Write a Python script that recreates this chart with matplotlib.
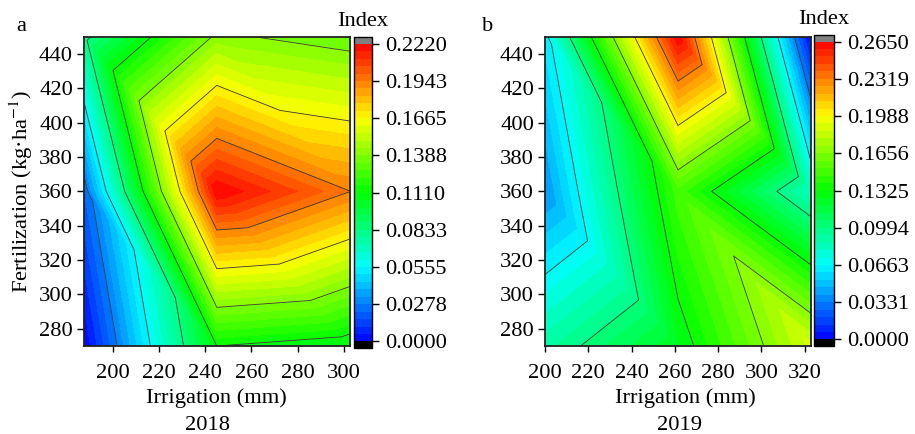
import numpy as np
import matplotlib
matplotlib.use("Agg")
import matplotlib.pyplot as plt
import matplotlib.tri as mtri
from matplotlib.colors import LinearSegmentedColormap

plt.rcParams['font.family'] = ['Liberation Serif', 'DejaVu Serif']
plt.rcParams['mathtext.fontset'] = 'stix'

# grid of treatments (irrigation x fertilization), index values
fert = [270, 360, 450]

irrig_2018 = [187.5, 245, 302.5]
index_2018 = [[0.000, 0.111, 0.104],
              [0.022, 0.222, 0.1945],
              [0.080, 0.141, 0.133]]

irrig_2019 = [200, 261.5, 323]
index_2019 = [[0.090, 0.125, 0.188],
              [0.0386, 0.1496, 0.082],
              [0.062, 0.265, 0.000]]

xticks_2018 = [200, 220, 240, 260, 280, 300]
xticks_2019 = [200, 220, 240, 260, 280, 300, 320]
yticks = [280, 300, 320, 340, 360, 380, 400, 420, 440]

FS = 16.2

cmap = LinearSegmentedColormap.from_list(
    "origin_rainbow", ["#0000ff", "#00ffff", "#00ff00", "#ffff00", "#ff0000"])
cmap.set_over("#808080")
cmap.set_under("#000000")

W, H = 915, 434
fig = plt.figure(figsize=(W / 100, H / 100), dpi=100)


def px(x0, y0, x1, y1):
    return [x0 / W, 1 - y1 / H, (x1 - x0) / W, (y1 - y0) / H]


def make_tri(xs, ys):
    X, Y = np.meshgrid(xs, ys)
    n = len(xs)
    tris = []
    for j in range(len(ys) - 1):
        for i in range(n - 1):
            a = j * n + i
            b = a + 1
            c = a + n
            d = c + 1
            tris.append([a, b, c])
            tris.append([b, d, c])
    return mtri.Triangulation(X.ravel(), Y.ravel(), tris)


def panel(ax_box, cb_box, xs, z, xticks, letter, year, letter_xy, index_xy, lab_x, year_x):
    z = np.array(z).ravel()
    vmax = z.max()
    tri = make_tri(xs, fert)
    ax = fig.add_axes(px(*ax_box))
    levels = np.linspace(0, vmax, 41)
    cf = ax.tricontourf(tri, z, levels=levels, cmap=cmap, extend="both")
    ax.tricontour(tri, z, levels=np.linspace(0, vmax, 9)[1:-1],
                  colors="#3a3a3a", linewidths=0.6)
    ax.set_xlim(xs[0], xs[-1])
    ax.set_ylim(fert[0], fert[-1])
    ax.set_xticks(xticks)
    ax.set_yticks(yticks)
    ax.tick_params(direction="out", width=1.0, labelsize=FS)
    ax.tick_params(axis="x", length=4.3, pad=9)
    ax.tick_params(axis="y", length=5, pad=3)
    for s in ax.spines.values():
        s.set_linewidth(1.3)
        s.set_color("#222222")

    cax = fig.add_axes(px(*cb_box))
    cb = fig.colorbar(cf, cax=cax, ticks=np.linspace(0, vmax, 9),
                      extendrect=True, extendfrac=0.022)
    cb.ax.yaxis.set_major_formatter("{x:.4f}")
    cb.ax.tick_params(direction="out", length=5, width=1.0, labelsize=FS, pad=4)
    cb.outline.set_linewidth(1.0)
    cb.ax.minorticks_off()

    fig.text(letter_xy[0] / W, 1 - letter_xy[1] / H, letter, fontsize=FS,
             ha="center", va="center")
    fig.text(index_xy[0] / W, 1 - index_xy[1] / H, "Index", fontsize=FS,
             ha="center", va="center")
    fig.text(lab_x / W, 1 - 398 / H, "Irrigation (mm)", fontsize=FS,
             ha="center", va="center")
    fig.text(year_x / W, 1 - 425 / H, year, fontsize=FS, ha="center", va="center")
    return ax


ax_a = panel((84, 36.7, 349.5, 346), (354.3, 37.3, 372.3, 348),
             irrig_2018, index_2018, xticks_2018, "a", "2018",
             (21.7, 26.7), (363, 21), 216.7, 207)
ax_a.set_ylabel("Fertilization (kg\u00b7ha$^{-1}$)", fontsize=FS, labelpad=3)

panel((545, 36.7, 811, 346), (814.3, 35, 834.3, 346),
      irrig_2019, index_2019, xticks_2019, "b", "2019",
      (488, 26.7), (824, 20), 685, 679)

fig.savefig("out.png", dpi=100)
